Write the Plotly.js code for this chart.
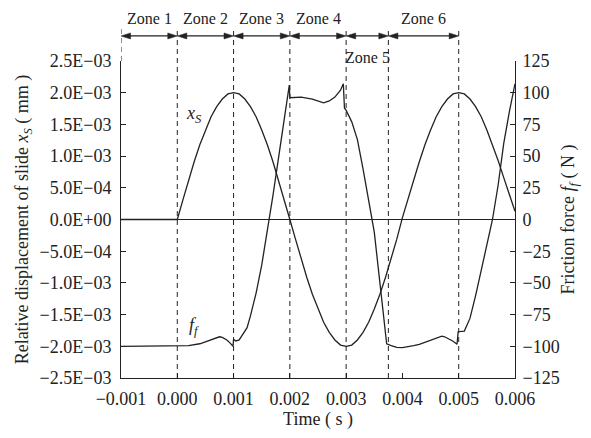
<!DOCTYPE html>
<html>
<head>
<meta charset="utf-8">
<script src="https://cdn.plot.ly/plotly-3.0.1.min.js"></script>
<style>html,body{margin:0;padding:0;background:#fff;}#chart{width:591px;height:438px;}</style>
</head>
<body>
<div id="chart"></div>
<script>
// ---- data ----
const timeXs = [-0.001, 0.0000, 0.0001, 0.0002, 0.0003, 0.0004, 0.0005, 0.0006, 0.0007, 0.0008, 0.0009,
  0.0010, 0.0011, 0.0012, 0.0013, 0.0014, 0.0015, 0.0016, 0.0017, 0.0018, 0.0019,
  0.0020, 0.0021, 0.0022, 0.0023, 0.0024, 0.0025, 0.0026, 0.0027, 0.0028, 0.0029,
  0.0030, 0.0031, 0.0032, 0.0033, 0.0034, 0.0035, 0.0036, 0.0037, 0.0038, 0.0039,
  0.0040, 0.0041, 0.0042, 0.0043, 0.0044, 0.0045, 0.0046, 0.0047, 0.0048, 0.0049,
  0.0050, 0.0051, 0.0052, 0.0053, 0.0054, 0.0055, 0.0056, 0.0057, 0.0058, 0.0059, 0.0060];
const slideXs = [0, 0, 0.00031, 0.00062, 0.00091, 0.00118, 0.00141, 0.00162, 0.00178, 0.00190, 0.00198,
  0.00200, 0.00198, 0.00190, 0.00178, 0.00162, 0.00141, 0.00118, 0.00091, 0.00062, 0.00031,
  0.00000, -0.00031, -0.00062, -0.00091, -0.00118, -0.00141, -0.00162, -0.00178, -0.00190, -0.00198,
  -0.00200, -0.00198, -0.00190, -0.00178, -0.00162, -0.00141, -0.00118, -0.00091, -0.00062, -0.00031,
  0.00003, 0.00031, 0.00062, 0.00091, 0.00118, 0.00141, 0.00162, 0.00178, 0.00190, 0.00198,
  0.00200, 0.00198, 0.00190, 0.00178, 0.00162, 0.00141, 0.00118, 0.00093, 0.00066, 0.00040, 0.00013];

const timeFf = [-0.001, 0.0000, 0.0002, 0.0004, 0.0005, 0.0006, 0.00065, 0.00075, 0.0008, 0.00088, 0.00094, 0.00099,
  0.0010, 0.00104, 0.0011, 0.0012, 0.00124, 0.0013, 0.0014, 0.0015, 0.0016, 0.0017, 0.0018, 0.0019, 0.00199,
  0.0020, 0.0022, 0.0024, 0.0025, 0.0026, 0.0027, 0.0028, 0.0029, 0.00295, 0.00297,
  0.0030, 0.0031, 0.0032, 0.0033, 0.0034, 0.0035, 0.0036, 0.00372, 0.0038, 0.0039,
  0.0040, 0.0041, 0.0042, 0.0043, 0.0044, 0.0045, 0.0046, 0.0047, 0.00475, 0.0048, 0.0049, 0.00497,
  0.00499, 0.0051, 0.0052, 0.0053, 0.0054, 0.0055, 0.0056, 0.0057, 0.0058, 0.0059, 0.0060];
const frictionFf = [-100, -100, -99.5, -98, -96.5, -94.5, -93.7, -92.5, -93, -95, -97.5, -100,
  -94.5, -95.8, -95, -88, -85.3, -76, -58, -36, -10, 19, 49, 79, 106,
  96, 96.5, 95, 93.5, 92, 93.5, 96.5, 102, 107, 88,
  86, 77, 63, 40, 16, -10, -50, -98, -99.5, -100.8,
  -101, -100.5, -99.5, -98.5, -97, -95.5, -93.5, -92, -92.5, -93.5, -96, -98.4,
  -88.5, -88, -78, -60, -40, -21, 0, 27, 60, 85, 107];

const xTickVals = [-0.001, 0.000, 0.001, 0.002, 0.003, 0.004, 0.005, 0.006];
const xTickText = ['\u22120.001', '0.000', '0.001', '0.002', '0.003', '0.004', '0.005', '0.006'];
const yTickVals = [0.0025, 0.0020, 0.0015, 0.0010, 0.0005, 0, -0.0005, -0.0010, -0.0015, -0.0020, -0.0025];
const yTickText = ['2.5E\u221203', '2.0E\u221203', '1.5E\u221203', '1.0E\u221203', '5.0E\u221204', '0.0E+00',
  '\u22125.0E\u221204', '\u22121.0E\u221203', '\u22121.5E\u221203', '\u22122.0E\u221203', '\u22122.5E\u221203'];
const y2TickVals = [125, 100, 75, 50, 25, 0, -25, -50, -75, -100, -125];
const y2TickText = ['125', '100', '75', '50', '25', '0', '\u221225', '\u221250', '\u221275', '\u2212100', '\u2212125'];

const zoneBounds = [-0.001, 0.000, 0.001, 0.002, 0.003, 0.00375, 0.005];
const zoneNames = ['Zone 1', 'Zone 2', 'Zone 3', 'Zone 4', 'Zone 5', 'Zone 6'];

// ---- chart ----
const FONT = '"Liberation Serif", "Times New Roman", serif';
const INK = '#222';

const traces = [
  {x: timeXs, y: slideXs, type: 'scatter', mode: 'lines', yaxis: 'y',
   line: {color: INK, width: 1.3}, hoverinfo: 'skip'},
  {x: timeFf, y: frictionFf, type: 'scatter', mode: 'lines', yaxis: 'y2',
   line: {color: INK, width: 1.3}, hoverinfo: 'skip'}
];

const shapes = [];
const annotations = [];
const yArrow = 1.079, yLabel = 1.135, yDashTop = 1.107;
// arrow head size: length in x data units (~10 px), half-height in paper units (~3 px)
const headLen = 0.00017, headHalf = 0.0095;
zoneBounds.forEach((b, i) => {
  shapes.push({type: 'line', xref: 'x', yref: 'paper', x0: b, x1: b,
    y0: i === 0 ? 1 : 0, y1: yDashTop, line: {color: INK, width: 1, dash: '5px,4px'}});
});
for (let i = 0; i < zoneNames.length; i++) {
  const a = zoneBounds[i], b = zoneBounds[i + 1];
  shapes.push({type: 'line', xref: 'x', yref: 'paper', x0: a + headLen * 0.5, x1: b - headLen * 0.5,
    y0: yArrow, y1: yArrow, line: {color: INK, width: 1.3}});
  shapes.push({type: 'path', xref: 'x', yref: 'paper', fillcolor: INK, line: {color: INK, width: 0.5},
    path: `M ${b} ${yArrow} L ${b - headLen} ${yArrow + headHalf} L ${b - headLen} ${yArrow - headHalf} Z`});
  shapes.push({type: 'path', xref: 'x', yref: 'paper', fillcolor: INK, line: {color: INK, width: 0.5},
    path: `M ${a} ${yArrow} L ${a + headLen} ${yArrow + headHalf} L ${a + headLen} ${yArrow - headHalf} Z`});
  annotations.push({x: (a + b) / 2, y: i === 4 ? 1.012 : yLabel, xref: 'x', yref: 'paper',
    xanchor: 'center', yanchor: 'middle', text: zoneNames[i],
    showarrow: false, font: {family: FONT, size: 16, color: INK}});
}
annotations.push({x: 0.0003, y: 0.00165, xref: 'x', yref: 'y', text: '<i>x</i><sub><i>S</i></sub>',
  showarrow: false, font: {family: FONT, size: 18, color: INK}});
annotations.push({x: 0.0003, y: -0.00168, xref: 'x', yref: 'y', text: '<i>f</i><sub><i>f</i></sub>',
  showarrow: false, font: {family: FONT, size: 18, color: INK}});

const axisCommon = {showgrid: false, ticks: 'inside', ticklen: 5, tickwidth: 1, tickcolor: INK,
  showline: true, linecolor: INK, linewidth: 1, mirror: false, tickfont: {family: FONT, size: 18, color: INK}};

const layout = {
  width: 591, height: 438,
  margin: {l: 121, r: 76, t: 61, b: 60, pad: 0},
  paper_bgcolor: '#fff', plot_bgcolor: '#fff',
  showlegend: false,
  font: {family: FONT, size: 18, color: INK},
  xaxis: Object.assign({}, axisCommon, {range: [-0.001, 0.006], tickmode: 'array', tickvals: xTickVals,
    ticktext: xTickText, zeroline: false, ticklabelstandoff: 4,
    title: {text: 'Time ( s )', font: {family: FONT, size: 18, color: INK}, standoff: 4}}),
  yaxis: Object.assign({}, axisCommon, {range: [-0.0025, 0.0025], tickmode: 'array', tickvals: yTickVals,
    ticktext: yTickText, zeroline: true, zerolinecolor: INK, zerolinewidth: 1, ticklabelstandoff: 5,
    title: {text: 'Relative displacement of slide <i>x</i><sub><i>S</i></sub> ( mm )',
      font: {family: FONT, size: 18, color: INK}, standoff: 6}}),
  yaxis2: Object.assign({}, axisCommon, {range: [-125, 125], tickmode: 'array', tickvals: y2TickVals,
    ticktext: y2TickText, overlaying: 'y', side: 'right', zeroline: false, ticklabelstandoff: 3,
    title: {text: 'Friction force <i>f</i><sub><i>f</i></sub> ( N )',
      font: {family: FONT, size: 18, color: INK}, standoff: 2}}),
  shapes: shapes,
  annotations: annotations
};

Plotly.newPlot('chart', traces, layout, {staticPlot: true, displayModeBar: false});
</script>
</body>
</html>
